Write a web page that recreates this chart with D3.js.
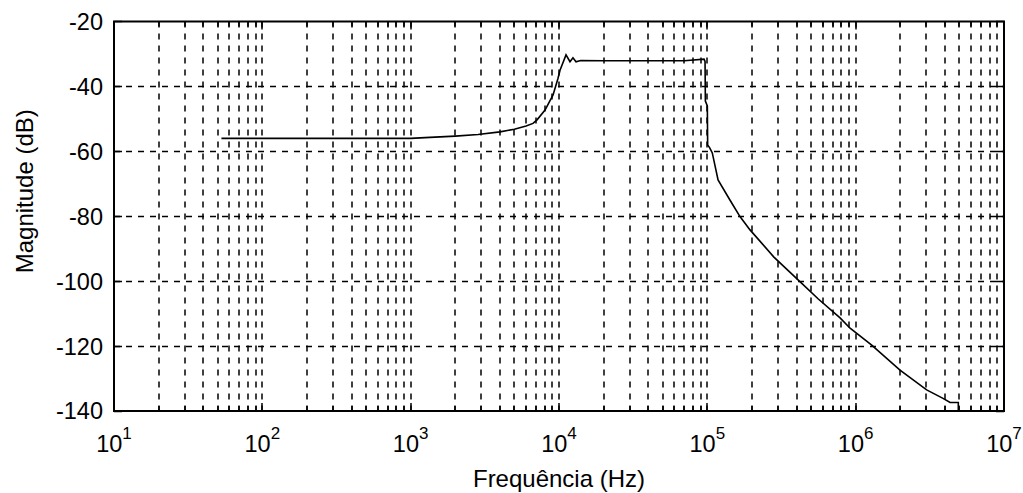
<!DOCTYPE html>
<html>
<head>
<meta charset="utf-8">
<script src="https://cdn.jsdelivr.net/npm/d3@7"></script>
<style>
  body { margin: 0; background: #fff; }
  text { font-family: "Liberation Sans", Arial, sans-serif; fill: #000; }
</style>
</head>
<body>
<div id="chart"></div>
<script>
// frequency response
const freqHz = [53, 1000, 1349, 2000, 2846, 4000, 5000, 6000, 6680, 7110, 8050, 9120, 9850, 10160,
  11150, 11860, 12420, 13020, 14000, 20000, 40000, 70000, 95000, 96500, 97000, 100000,
  100500, 104000, 108000, 118100, 142000, 166000, 194000, 280000, 409000, 560000, 785000,
  917000, 1283000, 1990000, 3010000, 3880000, 4330000, 4920000, 4920000];
const magDb = [-56, -56, -55.7, -55.3, -54.8, -54, -53.2, -52.2, -51.4, -50.3, -47.3, -42.6, -37.5, -35,
  -30.3, -32.4, -31.2, -32.4, -32, -32.1, -32.1, -32.1, -31.6, -32.3, -44.5, -46,
  -58, -59, -60.5, -68.8, -75, -80.1, -84.2, -92.5, -99.6, -105.5, -111.3,
  -114.5, -119.7, -127.4, -133.5, -136.1, -137.4, -137.4, -140];

const xTickExp = [1, 2, 3, 4, 5, 6, 7];
const yTicks = [-20, -40, -60, -80, -100, -120, -140];

const margin = { top: 21.5, right: 19, bottom: 82, left: 114 };
const W = 1023, H = 493;
const width = W - margin.left - margin.right;
const height = H - margin.top - margin.bottom;

const svg = d3.select("#chart").append("svg")
  .attr("width", W).attr("height", H);
const g = svg.append("g")
  .attr("transform", `translate(${margin.left},${margin.top})`);

const x = d3.scaleLog().domain([10, 1e7]).range([0, width]);
const y = d3.scaleLinear().domain([-140, -20]).range([height, 0]);

// minor positions: 2..9 times every decade
const minor = [];
for (let e = 1; e < 7; e++) for (let k = 2; k <= 9; k++) minor.push(k * Math.pow(10, e));
const majors = xTickExp.map(e => Math.pow(10, e));

// grid
const grid = g.append("g").attr("stroke", "#000").attr("stroke-width", 1.5)
  .attr("stroke-dasharray", "6,6");
grid.selectAll(".vg").data(minor.concat(majors.slice(1, -1))).enter().append("line")
  .attr("x1", d => Math.round(x(d))).attr("x2", d => Math.round(x(d)))
  .attr("y1", 0).attr("y2", height);
grid.selectAll(".hg").data(yTicks.slice(1, -1)).enter().append("line")
  .attr("y1", d => Math.round(y(d))).attr("y2", d => Math.round(y(d)))
  .attr("x1", 0).attr("x2", width);

// inward ticks on all sides
const ticks = g.append("g").attr("stroke", "#000").attr("stroke-width", 1.5);
const tickLen = d => majors.includes(d) ? 8 : 5;
ticks.selectAll(".tb").data(minor.concat(majors)).enter().append("line")
  .attr("x1", d => Math.round(x(d))).attr("x2", d => Math.round(x(d)))
  .attr("y1", height).attr("y2", d => height - tickLen(d));
ticks.selectAll(".tt").data(minor.concat(majors)).enter().append("line")
  .attr("x1", d => Math.round(x(d))).attr("x2", d => Math.round(x(d)))
  .attr("y1", 0).attr("y2", d => tickLen(d));
ticks.selectAll(".tl").data(yTicks).enter().append("line")
  .attr("y1", d => Math.round(y(d))).attr("y2", d => Math.round(y(d)))
  .attr("x1", 0).attr("x2", 8);
ticks.selectAll(".tr").data(yTicks).enter().append("line")
  .attr("y1", d => Math.round(y(d))).attr("y2", d => Math.round(y(d)))
  .attr("x1", width).attr("x2", width - 8);

// response curve
const line = d3.line().x(d => x(d[0])).y(d => y(d[1]));
g.append("path")
  .datum(freqHz.map((f, i) => [f, magDb[i]]))
  .attr("fill", "none").attr("stroke", "#000").attr("stroke-width", 1.6)
  .attr("d", line);

// frame
g.append("rect").attr("x", 0).attr("y", 0)
  .attr("width", width).attr("height", height)
  .attr("fill", "none").attr("stroke", "#000").attr("stroke-width", 2);

// y tick labels
g.selectAll(".yl").data(yTicks).enter().append("text")
  .attr("x", -11).attr("y", d => y(d)).attr("dy", "0.36em")
  .attr("text-anchor", "end").attr("font-size", 23.5)
  .text(d => d);

// x tick labels 10^n
const xl = g.selectAll(".xl").data(xTickExp).enter().append("text")
  .attr("x", d => x(Math.pow(10, d)))
  .attr("y", height + 41)
  .attr("text-anchor", "middle").attr("font-size", 23.5);
xl.append("tspan").text("10");
xl.append("tspan").attr("dy", -13).attr("font-size", 17).text(d => d);

// axis titles
g.append("text").attr("x", width / 2).attr("y", height + 76)
  .attr("text-anchor", "middle").attr("font-size", 24)
  .text("Frequência (Hz)");
g.append("text").attr("transform", "rotate(-90)")
  .attr("x", -height / 2 + 25).attr("y", -81)
  .attr("text-anchor", "middle").attr("font-size", 24)
  .text("Magnitude (dB)");
</script>
</body>
</html>
